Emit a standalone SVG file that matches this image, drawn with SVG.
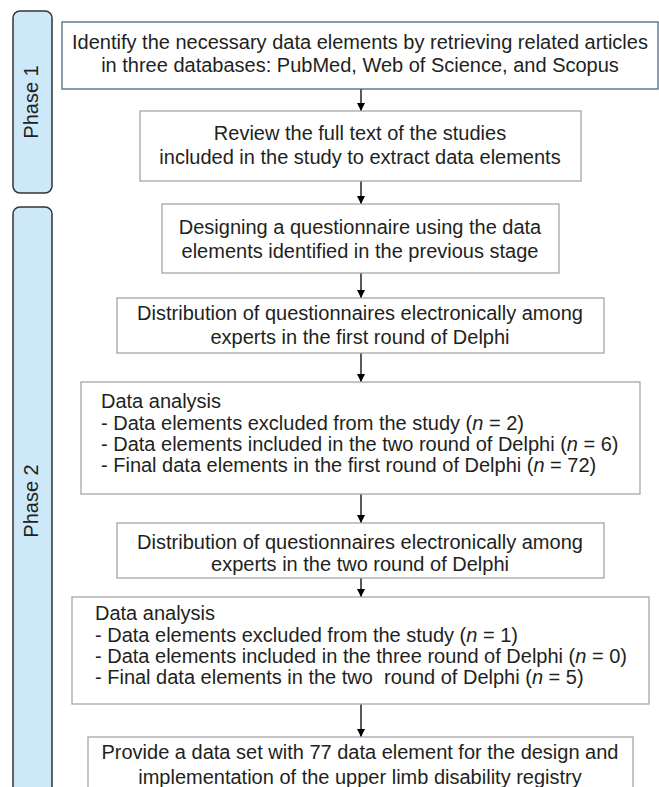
<svg xmlns="http://www.w3.org/2000/svg" width="659" height="787" viewBox="0 0 659 787">
<defs>
<style>
text{font-family:"Liberation Sans",Arial,sans-serif;font-size:20px;fill:#231f20}
.c{text-anchor:middle}
.box{fill:#fff;stroke:#a6a6a6;stroke-width:1.3}
.box1{fill:#fff;stroke:#4f6680;stroke-width:1.3}
.phase{fill:#cde8f8;stroke:#333;stroke-width:1.5}
.edge{stroke:#000;stroke-width:1.3;fill:none;marker-end:url(#ah)}
.i{font-style:italic}
</style>
<marker id="ah" viewBox="0 0 10 10" refX="10" refY="5" markerWidth="8" markerHeight="8" markerUnits="userSpaceOnUse" orient="auto">
<path d="M0,0 L10,5 L0,10 z" fill="#000"/>
</marker>
</defs>
<rect width="659" height="787" fill="#fff"/>
<g id="phase1">
<rect class="phase" x="13" y="11" width="39" height="182" rx="7"/>
<text class="c" transform="translate(38,102) rotate(-90)">Phase 1</text>
</g>
<g id="phase2">
<rect class="phase" x="13" y="207" width="39" height="600" rx="7"/>
<text class="c" transform="translate(38,501) rotate(-90)">Phase 2</text>
</g>
<g id="connectors">
<line class="edge" x1="361" y1="89" x2="361" y2="111"/>
<line class="edge" x1="361" y1="181" x2="361" y2="204"/>
<line class="edge" x1="361" y1="273" x2="361" y2="298"/>
<line class="edge" x1="361" y1="353" x2="361" y2="382"/>
<line class="edge" x1="361" y1="494" x2="361" y2="523"/>
<line class="edge" x1="361" y1="578" x2="361" y2="597"/>
<line class="edge" x1="361" y1="704" x2="361" y2="737"/>
</g>
<g id="n1">
<rect class="box1" x="62" y="22" width="596" height="67"/>
<text class="c" x="360" y="49">Identify the necessary data elements by retrieving related articles</text>
<text class="c" x="360" y="72">in three databases: PubMed, Web of Science, and Scopus</text>
</g>
<g id="n2">
<rect class="box" x="140" y="111" width="441" height="70"/>
<text class="c" x="360" y="140">Review the full text of the studies</text>
<text class="c" x="360" y="164">included in the study to extract data elements</text>
</g>
<g id="n3">
<rect class="box" x="162" y="204" width="397" height="69"/>
<text class="c" x="360" y="234">Designing a questionnaire using the data</text>
<text class="c" x="360" y="258">elements identified in the previous stage</text>
</g>
<g id="n4">
<rect class="box" x="117" y="298" width="487" height="55"/>
<text class="c" x="360" y="320">Distribution of questionnaires electronically among</text>
<text class="c" x="360" y="344">experts in the first round of Delphi</text>
</g>
<g id="n5">
<rect class="box" x="81" y="382" width="559" height="112"/>
<text x="101" y="408">Data analysis</text>
<text x="101" y="430">- Data elements excluded from the study (<tspan class="i">n</tspan> = 2)</text>
<text x="101" y="451">- Data elements included in the two round of Delphi (<tspan class="i">n</tspan> = 6)</text>
<text x="101" y="472">- Final data elements in the first round of Delphi (<tspan class="i">n</tspan> = 72)</text>
</g>
<g id="n6">
<rect class="box" x="117" y="523" width="487" height="55"/>
<text class="c" x="360" y="549">Distribution of questionnaires electronically among</text>
<text class="c" x="360" y="571">experts in the two round of Delphi</text>
</g>
<g id="n7">
<rect class="box" x="72" y="597" width="577" height="107"/>
<text x="95" y="620">Data analysis</text>
<text x="95" y="642">- Data elements excluded from the study (<tspan class="i">n</tspan> = 1)</text>
<text x="95" y="663">- Data elements included in the three round of Delphi (<tspan class="i">n</tspan> = 0)</text>
<text x="95" y="684" xml:space="preserve">- Final data elements in the two  round of Delphi (<tspan class="i">n</tspan> = 5)</text>
</g>
<g id="n8">
<rect class="box" x="88" y="737" width="545" height="70"/>
<text class="c" x="360" y="759">Provide a data set with 77 data element for the design and</text>
<text class="c" x="360" y="784">implementation of the upper limb disability registry</text>
</g>
</svg>
